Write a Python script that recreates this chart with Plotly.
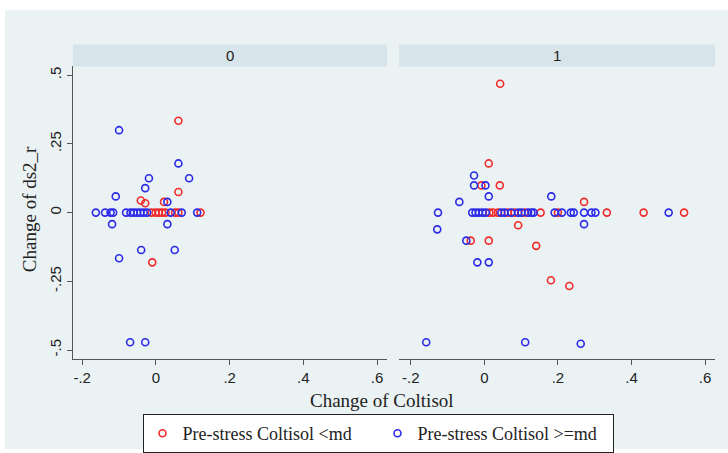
import plotly.graph_objects as go

# ---------------- data ----------------
panels = ["0", "1"]

# panel 0, Pre-stress Coltisol <md (red)
p0_red_x = [0.061, 0.061, -0.041, -0.029, 0.022, -0.010,
            -0.012, -0.001, 0.008, 0.017, 0.026, 0.052, 0.061, 0.121]
p0_red_y = [0.334, 0.075, 0.044, 0.034, 0.039, -0.181,
            0, 0, 0, 0, 0, 0, 0, 0]
# panel 0, Pre-stress Coltisol >=md (blue)
p0_blue_x = [-0.100, 0.061, -0.019, 0.090, -0.029, -0.109, 0.031, -0.119, 0.031,
             -0.040, 0.051, -0.100, -0.070, -0.029,
             -0.163, -0.138, -0.123, -0.116, -0.081, -0.069, -0.060, -0.051,
             -0.042, -0.033, -0.024, 0.040, 0.070, 0.112]
p0_blue_y = [0.300, 0.179, 0.125, 0.125, 0.089, 0.059, 0.039, -0.042, -0.042,
             -0.136, -0.136, -0.166, -0.472, -0.472,
             0, 0, 0, 0, 0, 0, 0, 0, 0, 0, 0, 0, 0, 0]

# panel 1, red
p1_red_x = [0.043, 0.012, -0.008, 0.042, 0.271, 0.092, -0.037, 0.012, 0.141, 0.181, 0.231,
            0.014, 0.024, 0.037, 0.064, 0.082, 0.110, 0.153, 0.200, 0.333, 0.433, 0.543]
p1_red_y = [0.469, 0.179, 0.099, 0.099, 0.039, -0.046, -0.102, -0.102, -0.121, -0.246, -0.267,
            0, 0, 0, 0, 0, 0, 0, 0, 0, 0, 0]
# panel 1, blue
p1_blue_x = [-0.028, -0.028, 0.003, 0.012, 0.182, -0.068, -0.128, 0.271, -0.049, -0.019,
             0.012, -0.158, 0.111, 0.262,
             -0.126, -0.033, -0.024, -0.015, -0.005, 0.004, 0.046, 0.055, 0.073, 0.092,
             0.101, 0.119, 0.128, 0.134, 0.191, 0.211, 0.235, 0.243, 0.271, 0.291,
             0.302, 0.501]
p1_blue_y = [0.135, 0.099, 0.099, 0.059, 0.059, 0.039, -0.061, -0.042, -0.102, -0.181,
             -0.181, -0.472, -0.472, -0.477,
             0, 0, 0, 0, 0, 0, 0, 0, 0, 0, 0, 0, 0, 0, 0, 0, 0, 0, 0, 0, 0, 0]

series_names = ["Pre-stress Coltisol <md", "Pre-stress Coltisol >=md"]

x_tickvals = [-0.2, 0, 0.2, 0.4, 0.6]
x_ticktext = ["-.2", "0", ".2", ".4", ".6"]
y_tickvals = [-0.5, -0.25, 0, 0.25, 0.5]
y_ticktext = ["-.5", "-.25", "0", ".25", ".5"]

# ---------------- styling ----------------
W, H = 728, 453
RED = "#f22a2a"
BLUE = "#2a2ae8"
BG = "#eaf2f3"
STRIP = "#d7e4ea"
AX = "#555555"
SERIF = "Liberation Serif, Times New Roman, serif"
SANS = "Liberation Sans, Arial, sans-serif"

def px(v):
    return v / W

def py(v):
    return 1 - v / H

fig = go.Figure()

marker_common = dict(symbol="circle-open", size=7, line=dict(width=1.6))

fig.add_trace(go.Scatter(x=p0_red_x, y=p0_red_y, mode="markers", name=series_names[0],
                         marker=dict(color=RED, **marker_common), xaxis="x", yaxis="y",
                         legendgroup="r"))
fig.add_trace(go.Scatter(x=p0_blue_x, y=p0_blue_y, mode="markers", name=series_names[1],
                         marker=dict(color=BLUE, **marker_common), xaxis="x", yaxis="y",
                         legendgroup="b"))
fig.add_trace(go.Scatter(x=p1_red_x, y=p1_red_y, mode="markers", name=series_names[0],
                         marker=dict(color=RED, **marker_common), xaxis="x2", yaxis="y2",
                         legendgroup="r", showlegend=False))
fig.add_trace(go.Scatter(x=p1_blue_x, y=p1_blue_y, mode="markers", name=series_names[1],
                         marker=dict(color=BLUE, **marker_common), xaxis="x2", yaxis="y2",
                         legendgroup="b", showlegend=False))

dom0 = [px(73), px(387)]
dom1 = [px(399), px(715)]
ydom = [py(362), py(67)]

tickfont = dict(family=SANS, size=15, color="#222")
xaxis_common = dict(tickvals=x_tickvals, ticktext=x_ticktext, showgrid=False, zeroline=False,
                    showline=True, linecolor=AX, linewidth=1, ticks="outside", ticklen=5,
                    tickcolor=AX, tickfont=tickfont)
yaxis_common = dict(tickvals=y_tickvals, range=[-0.532, 0.532], showgrid=True,
                    gridcolor=BG, gridwidth=2, zeroline=False)

fig.update_layout(
    width=W, height=H,
    margin=dict(l=0, r=0, t=0, b=0),
    paper_bgcolor="white",
    plot_bgcolor="white",
    showlegend=True,
    xaxis=dict(domain=dom0, range=[-0.225, 0.627], anchor="y", **xaxis_common),
    xaxis2=dict(domain=dom1, range=[-0.232, 0.627], anchor="y2", **xaxis_common),
    yaxis=dict(domain=ydom, anchor="x", ticktext=y_ticktext, tickangle=-90,
               showline=True, linecolor=AX, linewidth=1, ticks="outside", ticklen=5,
               tickcolor=AX, tickfont=tickfont, **yaxis_common),
    yaxis2=dict(domain=ydom, anchor="x2", showticklabels=False, showline=False,
                **yaxis_common),
    legend=dict(orientation="h", x=px(378), xanchor="center", y=py(418), yanchor="top",
                bgcolor="white", bordercolor="#222", borderwidth=1,
                font=dict(family=SERIF, size=18, color="#222"),
                entrywidth=190, entrywidthmode="pixels",
                itemclick=False, itemdoubleclick=False),
    shapes=[
        dict(type="rect", xref="paper", yref="paper", x0=px(5), x1=1, y0=0, y1=py(10),
             fillcolor=BG, line=dict(width=0), layer="below"),
        dict(type="rect", xref="paper", yref="paper", x0=dom0[0], x1=dom0[1],
             y0=py(67), y1=py(45), fillcolor=STRIP, line=dict(width=0), layer="below"),
        dict(type="rect", xref="paper", yref="paper", x0=dom1[0], x1=dom1[1],
             y0=py(67), y1=py(45), fillcolor=STRIP, line=dict(width=0), layer="below"),
    ],
    annotations=[
        dict(text=panels[0], xref="paper", yref="paper", x=(dom0[0] + dom0[1]) / 2, y=py(56),
             showarrow=False, font=dict(family=SANS, size=15, color="#222"),
             xanchor="center", yanchor="middle"),
        dict(text=panels[1], xref="paper", yref="paper", x=(dom1[0] + dom1[1]) / 2, y=py(56),
             showarrow=False, font=dict(family=SANS, size=15, color="#222"),
             xanchor="center", yanchor="middle"),
        dict(text="Change of Coltisol", xref="paper", yref="paper", x=px(382), y=py(404),
             showarrow=False, font=dict(family=SERIF, size=19, color="#222"),
             xanchor="center", yanchor="middle"),
        dict(text="Change of ds2_r", xref="paper", yref="paper", x=px(29), y=py(211),
             showarrow=False, textangle=-90, font=dict(family=SERIF, size=19, color="#222"),
             xanchor="center", yanchor="middle"),
    ],
)

fig.write_html("out.html", config={"displayModeBar": False},
               post_script="document.body.style.margin='0px';")
